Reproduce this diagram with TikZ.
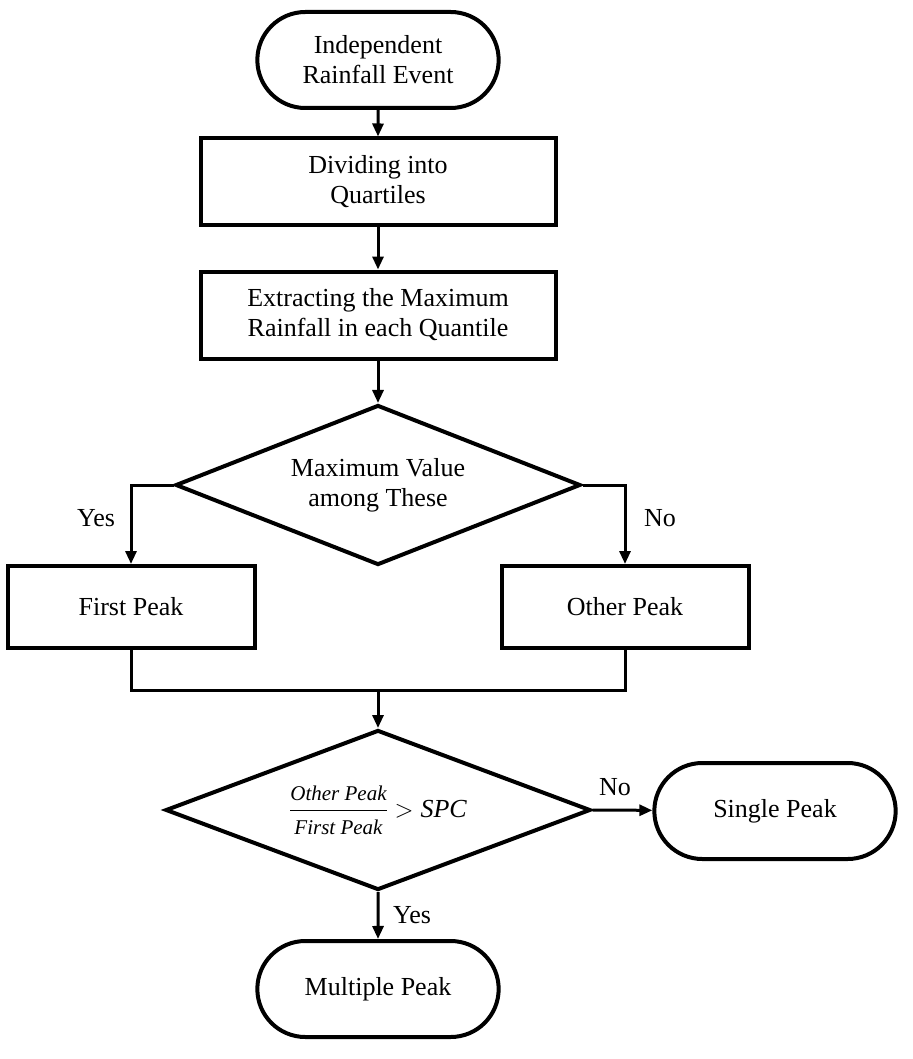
\documentclass[tikz,border=0pt]{standalone}
\usepackage{amsmath}
\usepackage{fontspec}
\setmainfont{Liberation Serif}
\usepackage{tikz}
\usetikzlibrary{arrows.meta,positioning,shapes.misc,shapes.geometric}

\tikzset{
  terminal/.style={draw,line width=4pt,rounded rectangle,minimum width=248pt,minimum height=96pt,align=center},
  process/.style={draw,line width=4pt,rectangle,minimum width=355pt,minimum height=87pt,align=center},
  sidebox/.style={draw,line width=4pt,rectangle,minimum width=247pt,minimum height=82pt,align=center},
  decision/.style={draw,line width=4pt,diamond,aspect=2.6,inner sep=0pt,align=center},
  conn/.style={line width=3pt,-{Triangle[length=13pt,width=11pt]}},
  plainconn/.style={line width=3pt},
  lbl/.style={font=\fontsize{26}{30}\selectfont}
}
\newcommand{\fracpart}[1]{\text{\fontsize{21}{24}\selectfont\itshape #1}}

\begin{document}
\begin{tikzpicture}[x=1pt,y=-1pt,line cap=butt,font=\fontsize{26}{30}\selectfont]
  \useasboundingbox (0,0) rectangle (912,1059);
  \node[terminal] (start) at (378,60) {Independent\\Rainfall Event};
  \node[process] (divide) at (378,182) {Dividing into\\Quartiles};
  \node[process] (extract) at (378,315) {Extracting the Maximum\\Rainfall in each Quantile};
  \node[decision,minimum width=405pt,minimum height=160pt] (maxval) at (378,485) {Maximum Value\\among These};
  \node[sidebox] (first) at (131,607) {First Peak};
  \node[sidebox] (other) at (625,607) {Other Peak};
  \coordinate (join) at (378,690);
  \node[decision,minimum width=425pt,minimum height=160pt] (ratio) at (378,810)
    {$\dfrac{\fracpart{Other Peak}}{\fracpart{First Peak}} > \text{\itshape SPC}$};
  \node[terminal] (single) at (775,811) {Single Peak};
  \node[terminal] (multi) at (378,989) {Multiple Peak};
  % connectors
  \draw[conn] (start) -- (divide);
  \draw[conn] (divide) -- (extract);
  \draw[conn] (extract) -- (maxval);
  \draw[conn] (maxval.west) -| (first.north);
  \draw[conn] (maxval.east) -| (other.north);
  \draw[plainconn] (first.south) |- (join) -| (other.south);
  \draw[conn] (join) -- (ratio.north);
  \draw[conn] (ratio.east) -- (single);
  \draw[conn] (ratio.south) -- (multi);
  % labels
  \node[lbl] (yes1) at (96,518) {Yes};
  \node[lbl] (no1) at (660,518) {No};
  \node[lbl] (no2) at (615,787) {No};
  \node[lbl] (yes2) at (412,915) {Yes};
\end{tikzpicture}
\end{document}
